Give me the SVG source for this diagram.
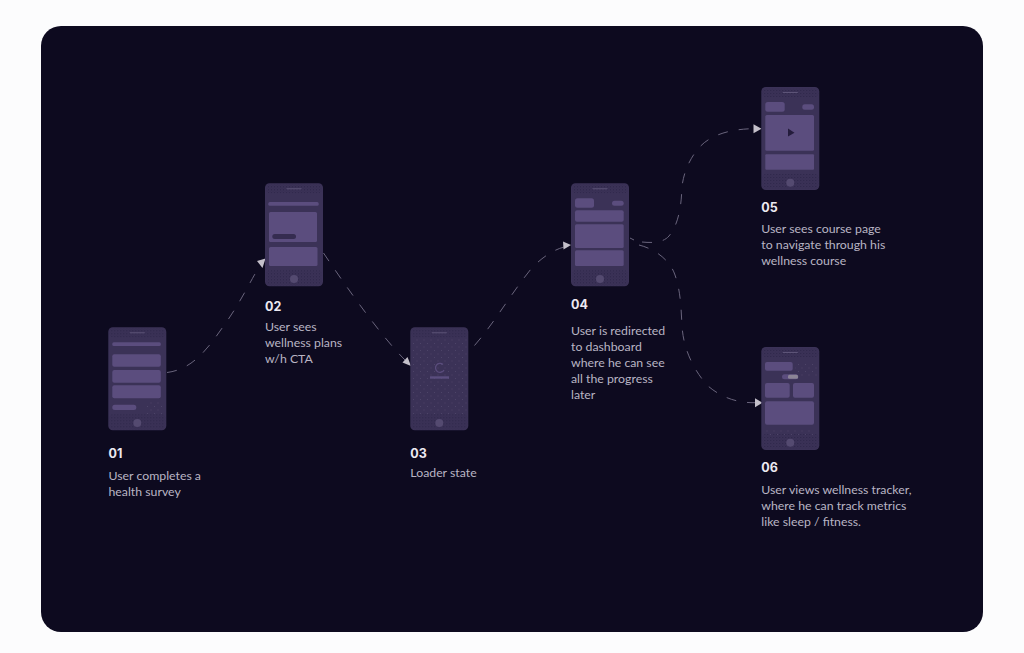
<svg xmlns="http://www.w3.org/2000/svg" width="1024" height="653" viewBox="0 0 1024 653">
<style>
.body{fill:#3b3257}
.band{fill:url(#dense)}
.sparse{fill:url(#sparse)}
.card{fill:#5b4d7e}
.home{fill:#544a70}
.spk{fill:#5d5478}
.dark{fill:#352c50}
.num{font:700 12.5px Inter,"Noto Sans",sans-serif;fill:#ece9f1}
.txt{font:400 12.300px Lato,"Noto Sans",sans-serif;fill:#b9b5c4}
.con{fill:none;stroke:#6a657d;stroke-width:1;stroke-dasharray:10 11}
.tip{fill:#c4c0ca}
</style>
<defs>
<pattern id="dense" width="3" height="3" patternUnits="userSpaceOnUse"><rect width="3" height="3" fill="#3b3257"/><rect width="1" height="1" fill="#2c2548"/><rect x="1.500" y="1.500" width="1" height="1" fill="#322a4f"/></pattern>
<pattern id="sparse" width="7" height="7" patternUnits="userSpaceOnUse"><rect width="1" height="1" fill="#4d4468"/><rect x="3.500" y="3.500" width="1" height="1" fill="#4d4468"/></pattern>
<g id="shell">
<rect class="body" width="58" height="103" rx="4.500"/>
<rect class="band" x="1" y="1" width="56" height="9" rx="3.500"/>
<rect class="band" x="1" y="87" width="56" height="15" rx="3.500"/>
<rect class="spk" x="21.500" y="5" width="15" height="1"/>
<circle class="home" cx="29" cy="95.700" r="4"/>
</g>
</defs>
<rect width="1024" height="653" fill="#fcfcfd"/>
<rect x="41" y="26" width="942" height="606" rx="20" fill="#0d0a1f"/>

<g id="connectors">
<path class="con" d="M167 372.500C195 369 210 345 225 324S250 282 259 267"/>
<path class="con" d="M323.500 253C345 285 380 335 405 360"/>
<path class="con" d="M474.500 345.500C495 322 510 295 531 269C541 258 553 250 564 247"/>
<path class="con" d="M642 242C652 243 663 243 669 236C678 225 681 208 681.700 192C682 170 695 148 708 140C722 131 740 128.700 755 128.700"/>
<path class="con" d="M639 245C655 249 670 260 675 275C681 292 681 310 682 325C683 350 695 372 708 386C722 398 738 403 755 402.700"/>
<path class="con" style="stroke-dasharray:none" d="M630 238L634 240"/>
<polygon class="tip" points="265.500,258.500 257,261 262.500,268"/>
<polygon class="tip" points="411,366 402.500,362.500 407.500,357"/>
<polygon class="tip" points="571,245 563,241.500 563.500,249.500"/>
<polygon class="tip" points="761.500,128.700 753.500,124.200 753.500,133.200"/>
<polygon class="tip" points="762.500,402.700 755,398.200 755,407.200"/>
</g>

<g id="node-01">
<use href="#shell" x="108.300" y="327.300"/>
<rect class="sparse" x="145" y="402" width="18" height="14"/>
<rect class="card" x="112.300" y="342.300" width="48.500" height="3.700" rx="1.500"/>
<rect class="card" x="112.300" y="354.300" width="48.500" height="12.400" rx="2"/>
<rect class="card" x="112.300" y="370" width="48.500" height="12.700" rx="2"/>
<rect class="card" x="112.300" y="385.300" width="48.500" height="13" rx="2"/>
<rect class="card" x="112.300" y="404.700" width="24" height="5.300" rx="2.500"/>
<text class="num" x="108.500" y="457.500">01</text>
<text class="txt" x="108.500" y="480">User completes a</text>
<text class="txt" x="108.500" y="496">health survey</text>
</g>

<g id="node-02">
<use href="#shell" x="265" y="183.300"/>
<rect class="card" x="268.300" y="202" width="50.400" height="3.700" rx="1.500"/>
<rect class="card" x="269" y="212" width="48" height="30" rx="1.500"/>
<rect class="dark" x="272.300" y="234" width="23.700" height="5" rx="2.500"/>
<rect class="card" x="269" y="247" width="48.500" height="19" rx="1.500"/>
<text class="num" x="265" y="310.500">02</text>
<text class="txt" x="265" y="331">User sees</text>
<text class="txt" x="265" y="347">wellness plans</text>
<text class="txt" x="265" y="363">w/h CTA</text>
</g>

<g id="node-03">
<use href="#shell" x="410.300" y="327.300"/>
<rect class="sparse" x="411" y="337" width="56" height="77"/>
<path d="M443 364.500A4.500 4.500 0 1 0 444 370" fill="none" stroke="#5a4c7c" stroke-width="1.300"/>
<rect class="card" x="430" y="376.300" width="19" height="2.400"/>
<text class="num" x="410.300" y="457.500">03</text>
<text class="txt" x="410.300" y="477">Loader state</text>
</g>

<g id="node-04">
<use href="#shell" x="571" y="183.300"/>
<rect class="card" x="575" y="198.300" width="19" height="9.400" rx="2.500"/>
<rect class="card" x="612" y="200.700" width="11.700" height="5" rx="2.500"/>
<rect class="card" x="575" y="210.300" width="48.700" height="11.400" rx="2"/>
<rect class="card" x="575" y="224.300" width="48.700" height="23.700" rx="1.500"/>
<rect class="card" x="575" y="250.300" width="48.700" height="15.700" rx="1.500"/>
<text class="num" x="571" y="308.500">04</text>
<text class="txt" x="571" y="334.500">User is redirected</text>
<text class="txt" x="571" y="350.500">to dashboard</text>
<text class="txt" x="571" y="367">where he can see</text>
<text class="txt" x="571" y="383">all the progress</text>
<text class="txt" x="571" y="399">later</text>
</g>

<g id="node-05">
<use href="#shell" x="761.300" y="87"/>
<rect class="card" x="765.300" y="102" width="19.400" height="9.700" rx="2.500"/>
<rect class="card" x="802.300" y="104.300" width="11.700" height="5.400" rx="2.500"/>
<rect class="card" x="765.300" y="115" width="48.700" height="35.700" rx="1.500"/>
<polygon points="788,128.500 794.500,132.700 788,136.500" fill="#241c3c"/>
<rect class="card" x="765.300" y="154.300" width="48.700" height="15.400" rx="1"/>
<text class="num" x="761.300" y="212">05</text>
<text class="txt" x="761.300" y="232.500">User sees course page</text>
<text class="txt" x="761.300" y="248.500">to navigate through his</text>
<text class="txt" x="761.300" y="265">wellness course</text>
</g>

<g id="node-06">
<use href="#shell" x="761.300" y="347"/>
<rect class="sparse" x="795" y="362" width="22" height="14"/>
<rect class="sparse" x="765" y="428" width="49" height="8"/>
<rect class="card" x="765" y="362" width="27.700" height="8.700" rx="2"/>
<rect class="card" x="782" y="374.300" width="16.300" height="5" rx="2.500"/>
<rect x="788" y="374.800" width="10" height="4" rx="1.500" fill="#8b8496"/>
<rect class="card" x="765" y="383" width="24.700" height="14.700" rx="2"/>
<rect class="card" x="793" y="383" width="21" height="14.700" rx="2"/>
<rect class="card" x="765" y="401.300" width="49" height="23.400" rx="2"/>
<text class="num" x="761.300" y="472">06</text>
<text class="txt" x="761.300" y="493.500">User views wellness tracker,</text>
<text class="txt" x="761.300" y="510">where he can track metrics</text>
<text class="txt" x="761.300" y="526">like sleep / fitness.</text>
</g>
</svg>
